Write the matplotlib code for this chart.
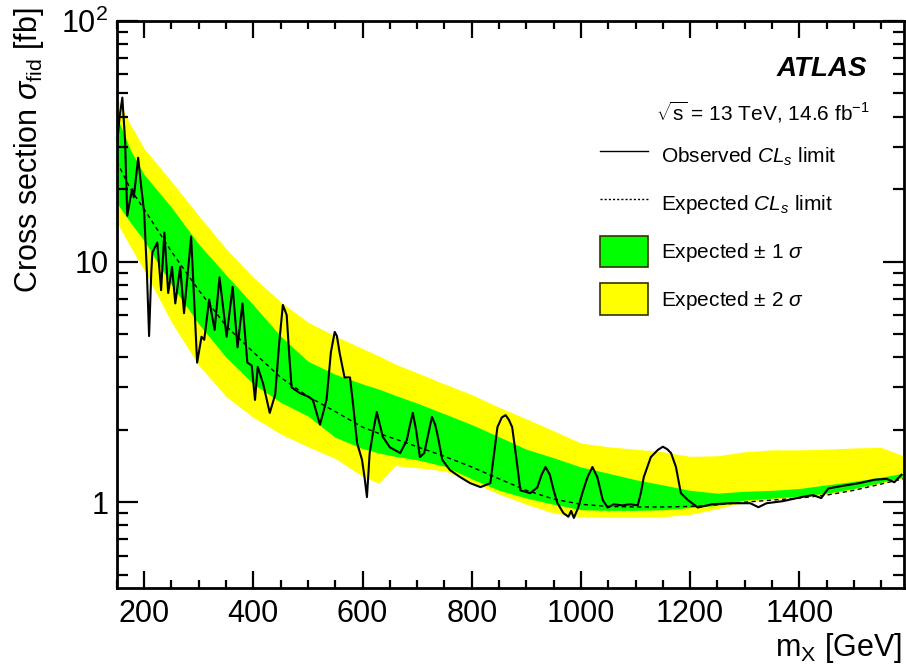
import numpy as np
import matplotlib.pyplot as plt
from matplotlib.lines import Line2D
from matplotlib.patches import Patch

plt.rcParams['font.family'] = ['Liberation Sans', 'DejaVu Sans']
plt.rcParams['mathtext.fontset'] = 'custom'
plt.rcParams['mathtext.rm'] = 'Liberation Sans'
plt.rcParams['mathtext.it'] = 'Liberation Sans:italic'
plt.rcParams['mathtext.bf'] = 'Liberation Sans:bold'

# Bandes attendues (grille de masse en GeV, section efficace en fb)
mass = [150, 175, 200, 250, 300, 350, 400, 450, 500, 550, 600, 630, 660, 700,
        750, 800, 850, 900, 950, 1000, 1050, 1100, 1150, 1200, 1250, 1300,
        1350, 1400, 1450, 1500, 1550, 1590]
yellow_hi = [48, 37, 29.5, 21.5, 15.5, 11.3, 8.6, 6.8, 5.6, 4.9, 4.35, 4.05, 3.75, 3.45,
             3.1, 2.8, 2.48, 2.22, 1.98, 1.76, 1.70, 1.66, 1.62, 1.55, 1.56, 1.62,
             1.65, 1.65, 1.66, 1.68, 1.69, 1.56]
green_hi = [40, 29, 23, 16.8, 11.8, 8.8, 6.6, 4.9, 3.85, 3.4, 3.1, 2.95, 2.78, 2.58,
            2.33, 2.1, 1.87, 1.66, 1.53, 1.40, 1.32, 1.24, 1.18, 1.12, 1.09, 1.11,
            1.12, 1.14, 1.18, 1.22, 1.27, 1.32]
green_lo = [17.5, 14.5, 12.2, 8.0, 5.5, 4.0, 3.1, 2.6, 2.28, 1.86, 1.67, 1.60, 1.55, 1.50,
            1.41, 1.25, 1.12, 1.04, 0.98, 0.93, 0.925, 0.925, 0.93, 0.95, 0.97, 1.02,
            1.04, 1.06, 1.09, 1.14, 1.21, 1.27]
yellow_lo = [14.5, 11.5, 9.2, 5.6, 3.7, 2.75, 2.25, 1.92, 1.70, 1.52, 1.28, 1.20, 1.42, 1.39,
             1.35, 1.21, 1.08, 0.98, 0.90, 0.87, 0.865, 0.865, 0.87, 0.89, 0.94, 1.00,
             1.03, 1.05, 1.08, 1.13, 1.20, 1.26]
expected = [26, 20, 16.5, 11.0, 7.6, 5.4, 4.2, 3.3, 2.75, 2.38, 2.05, 1.93, 1.83, 1.70,
            1.55, 1.40, 1.25, 1.12, 1.03, 0.98, 0.96, 0.955, 0.955, 0.96, 0.975, 1.0,
            1.02, 1.04, 1.07, 1.12, 1.19, 1.25]

# Limite observee
obs_mass = [150, 155, 160, 165, 169, 174, 178, 181, 189, 195, 200, 205, 209, 213, 215,
            224, 231, 237, 244, 251, 257, 266, 273, 286, 297, 305, 310, 319, 329, 338,
            351, 362, 371, 380, 389, 397, 403, 408, 418, 430, 440, 447, 454, 461, 466,
            470, 485, 500, 509, 522, 534, 542, 549, 553, 558, 567, 577, 583, 590, 599,
            604, 608, 613, 620, 626, 637, 650, 669, 681, 687, 692, 698, 705, 713, 720,
            727, 733, 738, 746, 760, 779, 797, 816, 834, 841, 847, 855, 862, 868, 874,
            882, 889, 907, 920, 928, 935, 943, 950, 957, 968, 977, 982, 987, 995, 1003,
            1012, 1021, 1030, 1040, 1049, 1060, 1075, 1090, 1104, 1110, 1115, 1128, 1141,
            1150, 1158, 1165, 1174, 1183, 1196, 1214, 1240, 1275, 1310, 1325, 1340, 1370,
            1404, 1425, 1440, 1453, 1480, 1510, 1538, 1560, 1574, 1587]
observed = [30, 40, 48, 32, 15.5, 18, 20, 18.5, 27, 20, 16, 9, 4.9, 9, 10.9,
            12, 7.6, 13.2, 7.4, 9.5, 6.7, 9.5, 6.1, 12.7, 3.8, 4.87, 4.73, 6.95, 5.2, 8.6,
            4.87, 7.85, 4.4, 6.7, 3.8, 3.7, 2.66, 3.65, 3.1, 2.35, 2.8, 4.5, 6.6, 6.0, 4.0,
            3.0, 2.84, 2.75, 2.66, 2.1, 2.66, 4.2, 5.1, 4.9, 4.17, 3.3, 3.3, 2.5, 1.76, 1.5,
            1.25, 1.05, 1.6, 2.0, 2.37, 1.87, 1.69, 1.6, 1.81, 2.1, 2.35, 2.0, 1.54, 1.6, 1.9,
            2.26, 2.1, 1.87, 1.5, 1.36, 1.27, 1.2, 1.155, 1.2, 1.6, 2.05, 2.25, 2.3, 2.2, 2.05,
            1.5, 1.12, 1.09, 1.15, 1.3, 1.40, 1.3, 1.12, 0.99, 0.90, 0.87, 0.92, 0.86, 0.95, 1.1,
            1.27, 1.40, 1.27, 1.02, 0.95, 0.98, 0.97, 0.98, 0.97, 1.1, 1.27, 1.54, 1.65,
            1.70, 1.66, 1.6, 1.40, 1.09, 1.02, 0.95, 0.98, 0.99, 0.99, 0.953, 0.99, 1.01,
            1.05, 1.07, 1.04, 1.14, 1.17, 1.2, 1.24, 1.25, 1.21, 1.30]

xticks = [200, 400, 600, 800, 1000, 1200, 1400]
yticks = [1, 10, 100]
ylabels = ['1', '10', '$10^{2}$']

fig = plt.figure(figsize=(9.06, 6.64), dpi=100)
ax = fig.add_axes([0.129, 0.1145, 0.869, 0.854])

ax.fill_between(mass, yellow_lo, yellow_hi, color='#ffff00', lw=0)
ax.fill_between(mass, green_lo, green_hi, color='#00ff00', lw=0)
ax.plot(mass, expected, color='black', lw=1.0, ls=(0, (3, 2.5)))
ax.plot(obs_mass, observed, color='black', lw=1.5)

ax.set_yscale('log')
ax.set_xlim(150, 1592)
ax.set_ylim(0.44, 100)
ax.set_xticks(xticks)
ax.set_xticks(np.arange(150, 1600, 50), minor=True)
ax.set_yticks(yticks)
ax.set_yticklabels(ylabels)
ax.yaxis.set_minor_formatter(plt.NullFormatter())

for s in ax.spines.values():
    s.set_linewidth(2)
ax.tick_params(which='both', direction='in', top=True, right=True, width=1.6,
               labelsize=22)
ax.tick_params(axis='x', which='major', length=12, pad=8)
ax.tick_params(axis='x', which='minor', length=6)
ax.tick_params(axis='y', which='major', length=15, pad=6)
ax.tick_params(axis='y', which='minor', length=8)

ax.set_xlabel(r'm$_{\mathrm{X}}$ [GeV]', fontsize=22, loc='right')
ax.xaxis.set_label_coords(0.997, -0.075)
ax.set_ylabel(r'Cross section $\sigma_{\mathrm{fid}}$ [fb]', fontsize=22, loc='top')
ax.yaxis.set_label_coords(-0.09, 1.025)

ax.text(0.953, 0.915, 'ATLAS', transform=ax.transAxes, fontsize=20,
        fontweight='bold', style='italic', ha='right', va='center')
ax.text(0.956, 0.838, r'$\sqrt{\mathrm{s}}$ = 13 TeV, 14.6 fb$^{-1}$',
        transform=ax.transAxes, fontsize=15, ha='right', va='center')

handles = [
    Line2D([], [], color='black', lw=1.0),
    Line2D([], [], color='black', lw=1.0, ls=(0, (1.5, 1.5))),
    Patch(facecolor='#00ff00', edgecolor='#333300', lw=1.2),
    Patch(facecolor='#ffff00', edgecolor='#333300', lw=1.2),
]
labels = [r'Observed $CL_s$ limit', r'Expected $CL_s$ limit',
          r'Expected $\pm$ 1 $\sigma$', r'Expected $\pm$ 2 $\sigma$']
ax.legend(handles, labels, loc='upper left', bbox_to_anchor=(0.614, 0.79),
          frameon=False, fontsize=15, borderpad=0, borderaxespad=0,
          handlelength=2.3, handleheight=1.95, handletextpad=0.6, labelspacing=0.78)

fig.savefig('out.png', dpi=100)
